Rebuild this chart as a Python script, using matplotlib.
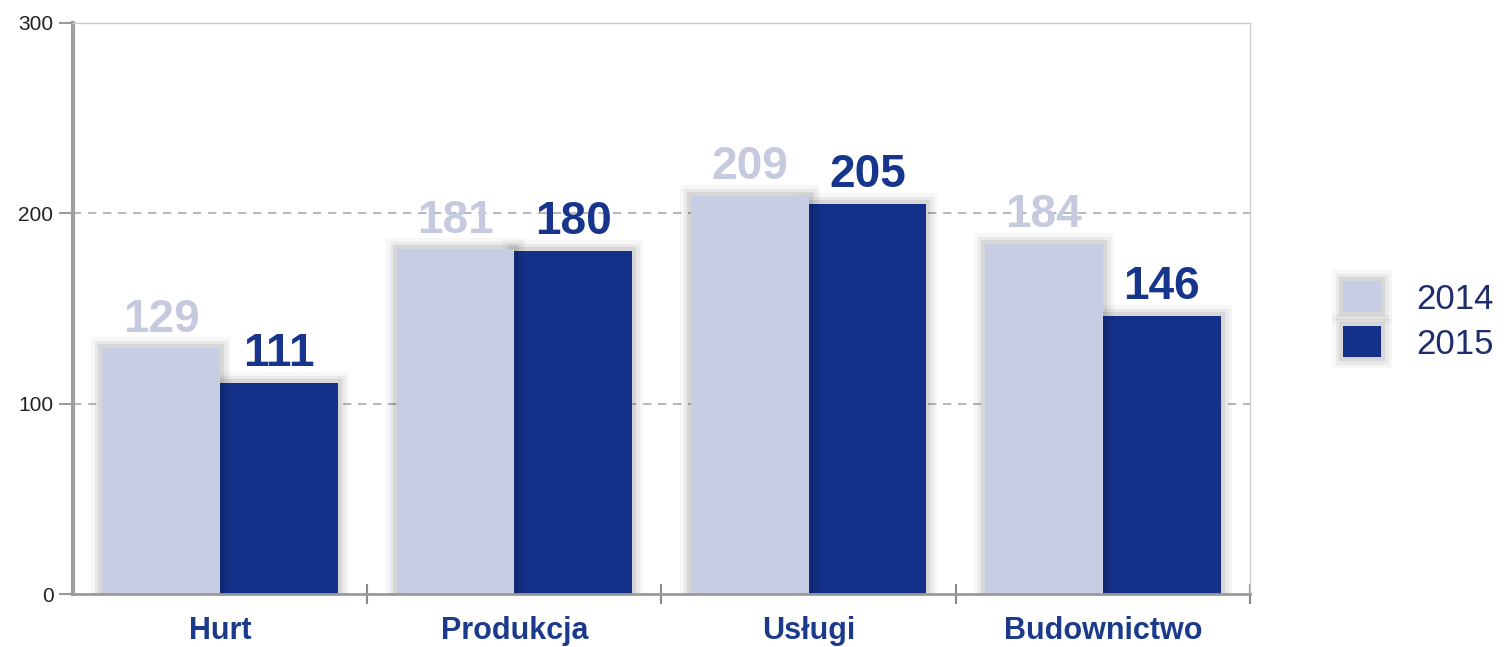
import matplotlib
matplotlib.use("Agg")
import matplotlib.pyplot as plt
import matplotlib.patheffects as pe
import numpy as np

categories = ["Hurt", "Produkcja", "Usługi", "Budownictwo"]
years = ["2014", "2015"]
values_2014 = [129, 181, 209, 184]
values_2015 = [111, 180, 205, 146]
yticks = [0, 100, 200, 300]

light = "#c8cde3"
dark = "#14318a"
label_light = "#c5cadf"
label_dark = "#17358c"
sans = ["Liberation Sans", "DejaVu Sans"]

fig = plt.figure(figsize=(15.04, 6.47), dpi=100)
ax = fig.add_axes([0.0485, 0.0819, 0.7826, 0.8826])

x = np.arange(len(categories))
w = 0.4

glow = [pe.Stroke(linewidth=16, foreground="#000000", alpha=0.03),
        pe.Stroke(linewidth=11, foreground="#000000", alpha=0.05),
        pe.Stroke(linewidth=6, foreground="#000000", alpha=0.08),
        pe.Normal()]

b1 = ax.bar(x - w / 2, values_2014, w, color=light, zorder=4, label=years[0])
b2 = ax.bar(x + w / 2, values_2015, w, color=dark, zorder=3, label=years[1])
for b in list(b1) + list(b2):
    b.set_path_effects(glow)

for xi, v in zip(x, values_2014):
    ax.annotate(str(v), (xi - w / 2, v), xytext=(0, 5), textcoords="offset points",
                ha="center", va="bottom", fontsize=33, fontweight="bold",
                color=label_light, family=sans, zorder=6)
for xi, v in zip(x, values_2015):
    ax.annotate(str(v), (xi + w / 2, v), xytext=(0, 5), textcoords="offset points",
                ha="center", va="bottom", fontsize=33, fontweight="bold",
                color=label_dark, family=sans, zorder=6)

ax.set_xlim(-0.5, len(categories) - 0.5)
ax.set_ylim(0, 300)
ax.set_yticks(yticks)
ax.set_yticklabels([str(t) for t in yticks], fontsize=15, color="#222222", family=sans)
ax.tick_params(axis="y", direction="out", length=10, width=1.5, color="#9a9a9a", pad=4)

ax.set_xticks(x)
ax.set_xticklabels(categories, fontsize=22, fontweight="bold", color="#1b3a8c",
                   family=sans)
ax.tick_params(axis="x", which="major", length=0, pad=16)
ax.set_xticks(np.arange(len(categories)) + 0.5, minor=True)
ax.tick_params(axis="x", which="minor", direction="inout", length=15, width=1.5,
               color="#8a8a8a")

for t in yticks[1:3]:
    ax.axhline(t, color="#aaaaaa", linestyle=(0, (5, 4)), linewidth=1.2, zorder=1)

ax.spines["left"].set_color("#a0a0a0")
ax.spines["left"].set_linewidth(3)
ax.spines["bottom"].set_color("#9a9a9a")
ax.spines["bottom"].set_linewidth(2)
ax.spines["bottom"].set_zorder(5)
for s in ("top", "right"):
    ax.spines[s].set_color("#cccccc")
    ax.spines[s].set_linewidth(1)

leg = fig.legend(handles=[b1, b2], labels=years, loc="center left",
                 bbox_to_anchor=(0.893, 0.504), frameon=False,
                 borderpad=0, borderaxespad=0,
                 handlelength=1.1, handleheight=1.0, handletextpad=1.0,
                 labelspacing=0.3, labelcolor="#1e2d6e",
                 prop={"family": sans, "size": 25})

fig.savefig("out.png", dpi=100)
